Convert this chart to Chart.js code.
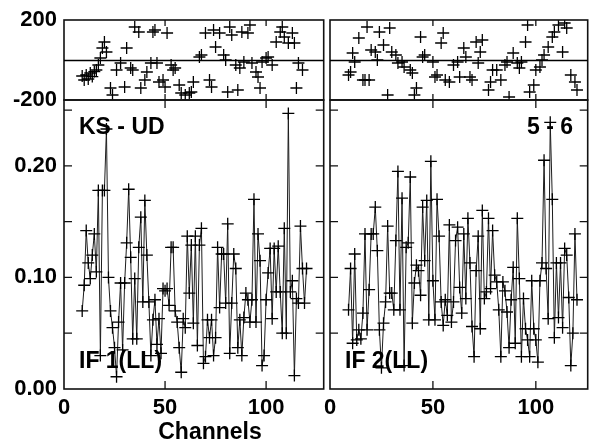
<!DOCTYPE html>
<html>
<head>
<meta charset="utf-8">
<script src="https://cdn.jsdelivr.net/npm/chart.js@4.4.0/dist/chart.umd.min.js"></script>
<style>
html, body { margin: 0; padding: 0; background: #fff; }
#wrap { position: relative; width: 595px; height: 442px; overflow: hidden; background: #fff; }
#wrap canvas { position: absolute; }
</style>
</head>
<body>
<div id="wrap">
	<canvas id="phaseL" width="331" height="120" style="left:0px;top:0px"></canvas>
	<canvas id="ampL" width="331" height="362" style="left:0px;top:80px"></canvas>
	<canvas id="phaseR" width="295" height="120" style="left:300px;top:0px"></canvas>
	<canvas id="ampR" width="295" height="362" style="left:300px;top:80px"></canvas>
</div>
<script>
// channels and values, IF 1 (left) and IF 2 (right)
const ampChannels = [9, 10, 11, 12, 13, 14, 15, 16, 17, 18, 19, 20, 21, 22, 23, 24, 25, 26, 27, 28, 29, 30,
	31, 32, 33, 34, 35, 36, 37, 38, 39, 40, 41, 42, 43, 44, 45, 46, 47, 48, 49, 50, 51, 52, 53, 54, 55, 56,
	57, 58, 59, 60, 61, 62, 63, 64, 65, 66, 67, 68, 69, 70, 71, 72, 73, 74, 75, 76, 77, 78, 79, 80, 81, 82,
	83, 84, 85, 86, 87, 88, 89, 90, 91, 92, 93, 94, 95, 96, 97, 98, 99, 100, 101, 102, 103, 104, 105, 106,
	107, 108, 109, 110, 111, 112, 113, 114, 115, 116, 117, 118, 119, 120];

const ampIF1 = [0.070, 0.093, 0.142, 0.113, 0.099, 0.120, 0.139, 0.105, 0.178, 0.030, 0.178, 0.178, 0.233,
	0.100, 0.070, 0.055, 0.037, 0.011, 0.060, 0.095, 0.035, 0.095, 0.131, 0.179, 0.118, 0.045, 0.099, 0.045,
	0.127, 0.154, 0.078, 0.169, 0.120, 0.078, 0.030, 0.062, 0.080, 0.040, 0.063, 0.032, 0.090, 0.088, 0.090,
	0.075, 0.127, 0.127, 0.070, 0.060, 0.037, 0.015, 0.063, 0.055, 0.137, 0.086, 0.129, 0.059, 0.137, 0.039,
	0.129, 0.144, 0.023, 0.029, 0.062, 0.046, 0.062, 0.030, 0.046, 0.127, 0.073, 0.121, 0.121, 0.077, 0.148,
	0.032, 0.077, 0.121, 0.108, 0.037, 0.062, 0.030, 0.064, 0.086, 0.080, 0.060, 0.080, 0.170, 0.060, 0.139,
	0.115, 0.021, 0.030, 0.080, 0.104, 0.126, 0.063, 0.126, 0.087, 0.128, 0.087, 0.050, 0.144, 0.050, 0.247,
	0.087, 0.097, 0.012, 0.081, 0.077, 0.146, 0.108, 0.077, 0.108];

const ampIF2 = [0.071, 0.108, 0.041, 0.121, 0.044, 0.053, 0.045, 0.068, 0.139, 0.053, 0.089, 0.139, 0.139,
	0.163, 0.124, 0.053, 0.019, 0.059, 0.078, 0.146, 0.086, 0.086, 0.071, 0.133, 0.195, 0.071, 0.171, 0.021,
	0.127, 0.131, 0.190, 0.059, 0.095, 0.111, 0.106, 0.084, 0.163, 0.115, 0.169, 0.062, 0.204, 0.097, 0.062,
	0.170, 0.137, 0.078, 0.057, 0.080, 0.066, 0.147, 0.060, 0.078, 0.133, 0.145, 0.091, 0.068, 0.139, 0.081,
	0.153, 0.113, 0.056, 0.029, 0.106, 0.137, 0.054, 0.160, 0.081, 0.087, 0.153, 0.090, 0.142, 0.102, 0.096,
	0.071, 0.029, 0.096, 0.088, 0.069, 0.037, 0.080, 0.109, 0.041, 0.153, 0.099, 0.029, 0.081, 0.054, 0.044,
	0.029, 0.097, 0.054, 0.044, 0.024, 0.097, 0.113, 0.205, 0.108, 0.063, 0.239, 0.170, 0.046, 0.113, 0.064,
	0.113, 0.055, 0.126, 0.120, 0.082, 0.021, 0.050, 0.139, 0.080];

const phaseChannelsIF1 = [9, 10, 11, 12, 13, 14, 15, 16, 17, 18, 19, 20, 21, 23, 24, 26, 28, 30, 31, 33, 34,
	35, 37, 38, 40, 41, 43, 44, 45, 46, 47, 49, 50, 51, 53, 54, 55, 57, 58, 60, 62, 63, 64, 67, 68, 70, 72,
	73, 74, 75, 77, 79, 80, 81, 82, 83, 85, 86, 87, 88, 89, 91, 92, 93, 95, 96, 97, 98, 100, 101, 103, 105,
	107, 108, 109, 111, 113, 114, 115, 116, 118];
const phaseIF1 = [-80, -100, -75, -95, -65, -83, -58, -50, -25, 10, 60, 90, 40, -140, -175, -50, -15, -135,
	60, -40, -50, 165, 140, -140, -100, -60, -15, 140, 150, -15, -110, -100, -135, 135, -25, -50, -40, -125,
	-165, -175, -165, -160, -110, 15, 25, 135, -100, -135, 150, 65, 135, 25, 0, -160, 165, 125, -25, -150,
	-40, 140, -10, 135, 175, -15, -60, -85, -140, -10, 10, 15, -25, 90, 140, 165, 115, 85, 135, 85, -140,
	-15, -50];

const phaseChannelsIF2 = [9, 10, 11, 12, 14, 16, 17, 18, 19, 20, 22, 23, 24, 26, 28, 29, 30, 32, 33, 35, 36,
	39, 40, 41, 42, 44, 45, 46, 50, 51, 52, 54, 55, 56, 58, 60, 62, 63, 65, 66, 68, 69, 71, 72, 73, 74, 77,
	78, 79, 81, 83, 85, 86, 87, 89, 91, 92, 93, 95, 96, 97, 99, 100, 102, 103, 104, 106, 108, 109, 111, 113,
	114, 115, 117, 119, 120];
const phaseIF2 = [-75, -60, 35, -10, 110, -100, -100, 165, -100, 50, 40, 0, 140, 75, -175, 160, 40, 25, -15,
	-10, -35, -50, -65, -175, -140, 115, 15, 25, -10, -85, -75, 85, 135, -100, -110, -25, -10, -85, 60, 15,
	-85, -100, 90, -15, 40, 100, -150, -110, -50, -50, -100, -25, -10, -185, 35, -15, -40, -10, 90, 175, -160,
	-125, -50, -35, 0, 25, 65, 115, 140, 175, 40, 185, 160, -75, -110, -150];

// tick values / labels
const channelTicks = [0, 50, 100];
const phaseTicks = [-200, 200];
const ampTicks = [0.05, 0.10, 0.15, 0.20, 0.25];
const ampLabelTicks = [0, 0.1, 0.2];

const FAMILY = "'Liberation Sans', Arial, Helvetica, sans-serif";
const BOLD = { family: FAMILY, weight: "bold", size: 22 };

const toPoints = (xs, ys) => xs.map((x, i) => ({ x, y: ys[i] }));
const near = (v, list) => list.some((t) => Math.abs(v - t) < 1e-6);

// frame, inward ticks and panel captions
const framePlugin = {
	id: "frame",
	afterDatasetsDraw(chart, _args, o) {
		const { ctx, chartArea: a } = chart;
		const xs = chart.scales.x;
		const ys = chart.scales.y;
		ctx.save();
		ctx.strokeStyle = "#111";
		ctx.lineWidth = 1.6;
		ctx.strokeRect(a.left, a.top, a.right - a.left, a.bottom - a.top);
		if (o.zeroLine) {
			const py = Math.round(ys.getPixelForValue(0)) + 0.5;
			ctx.strokeStyle = "#000";
			ctx.lineWidth = 1.3;
			ctx.beginPath();
			ctx.moveTo(a.left, py);
			ctx.lineTo(a.right, py);
			ctx.stroke();
		}
		ctx.strokeStyle = "#111";
		ctx.lineWidth = 1.3;
		ctx.beginPath();
		channelTicks.forEach((v) => {
			if (v === 0) return;
			const px = xs.getPixelForValue(v);
			ctx.moveTo(px, a.top);
			ctx.lineTo(px, a.top + o.tickLen);
			ctx.moveTo(px, a.bottom);
			ctx.lineTo(px, a.bottom - o.tickLen);
		});
		(o.yTicks || []).forEach((v) => {
			const py = ys.getPixelForValue(v);
			ctx.moveTo(a.left, py);
			ctx.lineTo(a.left + 8, py);
			ctx.moveTo(a.right, py);
			ctx.lineTo(a.right - 8, py);
		});
		ctx.stroke();
		ctx.fillStyle = "#000";
		ctx.font = `bold 23px ${FAMILY}`;
		ctx.textBaseline = "alphabetic";
		(o.texts || []).forEach((t) => {
			ctx.textAlign = t.align || "left";
			ctx.fillText(t.text, t.x - o.offsetX, t.y - o.offsetY);
		});
		ctx.restore();
	},
};

function makePanel(id, cfg) {
	const isAmp = cfg.kind === "amp";
	const dataset = isAmp
		? {
				data: toPoints(cfg.xs, cfg.ys),
				borderColor: "#1c1c1c",
				borderWidth: 1,
				pointStyle: "cross",
				pointRadius: 6,
				pointBorderColor: "#000",
				pointBorderWidth: 1.3,
				showLine: true,
				tension: 0,
			}
		: {
				data: toPoints(cfg.xs, cfg.ys),
				showLine: false,
				pointStyle: "cross",
				pointRadius: 6,
				pointBorderColor: "#000",
				pointBorderWidth: 1.3,
			};

	return new Chart(document.getElementById(id), {
		type: "line",
		data: { datasets: [dataset] },
		options: {
			responsive: false,
			animation: false,
			events: [],
			layout: { padding: cfg.padding },
			scales: {
				x: {
					type: "linear",
					min: 0,
					max: cfg.xMax,
					display: isAmp,
					grid: { display: false, drawTicks: false },
					border: { display: false },
					ticks: {
						stepSize: 50,
						includeBounds: false,
						padding: 6,
						autoSkip: false,
						color: "#000",
						font: BOLD,
						maxRotation: 0,
						callback: (v) => (near(v, channelTicks) ? String(v) : ""),
					},
					afterFit: (s) => {
						if (isAmp) s.height = 53;
						s.paddingLeft = 0;
						s.paddingRight = 0;
					},
				},
				y: {
					type: "linear",
					min: isAmp ? 0 : -200,
					max: isAmp ? 0.259 : 200,
					display: cfg.showY,
					grid: { display: false, drawTicks: false },
					border: { display: false },
					ticks: {
						stepSize: isAmp ? 0.1 : 200,
						includeBounds: false,
						padding: 7,
						autoSkip: false,
						color: "#000",
						font: BOLD,
						callback: (v) => {
							if (isAmp) return near(v, ampLabelTicks) ? v.toFixed(2) : "";
							return near(v, phaseTicks) ? String(v) : "";
						},
					},
					afterFit: (s) => {
						if (cfg.showY) s.width = 64;
						s.paddingTop = 0;
						s.paddingBottom = 0;
					},
				},
			},
			plugins: {
				legend: { display: false },
				tooltip: { enabled: false },
				frame: {
					zeroLine: !isAmp,
					yTicks: isAmp ? ampTicks : [],
					tickLen: isAmp ? 8 : 6,
					texts: cfg.texts,
					offsetX: cfg.offsetX,
					offsetY: cfg.offsetY,
				},
			},
		},
		plugins: [framePlugin],
	});
}

makePanel("phaseL", {
	kind: "phase", xs: phaseChannelsIF1, ys: phaseIF1, xMax: 128.5, showY: true,
	padding: { top: 20, right: 1, bottom: 20, left: 0 }, offsetX: 0, offsetY: 0, texts: [],
});
makePanel("ampL", {
	kind: "amp", xs: ampChannels, ys: ampIF1, xMax: 128.5, showY: true,
	padding: { top: 20, right: 1, bottom: 0, left: 0 }, offsetX: 0, offsetY: 80,
	texts: [
		{ text: "KS - UD", x: 79, y: 134 },
		{ text: "IF 1(LL)", x: 79, y: 368 },
		{ text: "Channels", x: 210, y: 439, align: "center" },
	],
});
makePanel("phaseR", {
	kind: "phase", xs: phaseChannelsIF2, ys: phaseIF2, xMax: 125.2, showY: false,
	padding: { top: 20, right: 7, bottom: 20, left: 30 }, offsetX: 300, offsetY: 0, texts: [],
});
makePanel("ampR", {
	kind: "amp", xs: ampChannels, ys: ampIF2, xMax: 125.2, showY: false,
	padding: { top: 20, right: 7, bottom: 0, left: 30 }, offsetX: 300, offsetY: 80,
	texts: [
		{ text: "5 - 6", x: 573, y: 134, align: "right" },
		{ text: "IF 2(LL)", x: 345, y: 368 },
	],
});
</script>
</body>
</html>
